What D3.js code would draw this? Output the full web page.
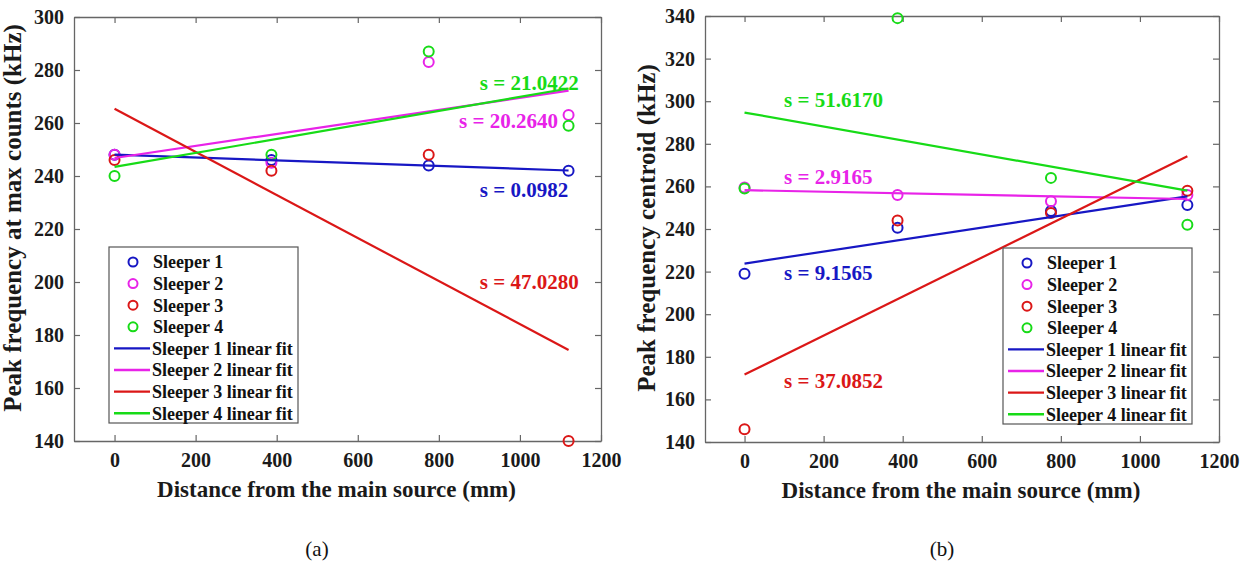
<!DOCTYPE html>
<html>
<head>
<meta charset="utf-8">
<script src="https://cdn.jsdelivr.net/npm/d3@7"></script>
<style>
  body { margin: 0; background: #fff; }
  svg { display: block; }
  text { font-family: "Liberation Serif", "Times New Roman", serif; }
</style>
</head>
<body>
<svg id="fig" width="1256" height="565"></svg>
<script>
// Sensor positions along the rail (mm from the main source)
const distances = [0, 387, 775, 1120];
const sleeperNames = ["Sleeper 1", "Sleeper 2", "Sleeper 3", "Sleeper 4"];
const xTickValues = [0, 200, 400, 600, 800, 1000, 1200];

// (a) Peak frequency at max counts (kHz)
const maxCounts1 = [248, 246, 244, 242];
const maxCounts2 = [248, 245, 283, 263];
const maxCounts3 = [246, 242, 248, 140];
const maxCounts4 = [240, 248, 287, 259];
const maxCountsLabels = ["s = 0.0982", "s = 20.2640", "s = 47.0280", "s = 21.0422"];
const maxCountsTicks = [140, 160, 180, 200, 220, 240, 260, 280, 300];

// (b) Peak frequency centroid (kHz)
const centroid1 = [219, 240.6, 248.5, 251.3];
const centroid2 = [259.5, 256, 253, 256];
const centroid3 = [146, 244, 247.5, 258];
const centroid4 = [259, 339, 264, 242];
const centroidLabels = ["s = 9.1565", "s = 2.9165", "s = 37.0852", "s = 51.6170"];
const centroidTicks = [140, 160, 180, 200, 220, 240, 260, 280, 300, 320, 340];

const colors = ["#1717c4", "#e823e8", "#db1717", "#17db17"];
const FONT = '"Liberation Serif", "Times New Roman", serif';

// Ordinary least-squares line through (x, y)
function linearFit(xs, ys) {
  const mx = d3.mean(xs), my = d3.mean(ys);
  let sxy = 0, sxx = 0;
  xs.forEach((x, i) => { sxy += (x - mx) * (ys[i] - my); sxx += (x - mx) * (x - mx); });
  const slope = sxy / sxx;
  return x => my + slope * (x - mx);
}

const svg = d3.select("#fig");

function drawPanel(cfg) {
  const g = svg.append("g");
  const x = d3.scaleLinear().domain([-100, 1200]).range([cfg.left, cfg.right]);
  const y = d3.scaleLinear().domain(cfg.yDomain).range([cfg.bottom, cfg.top]);
  const frame = "#666";
  const fmt = d3.format("d");

  // ticks pointing inwards on all four sides
  const tl = 6;
  const axes = [
    [d3.axisBottom(x).tickValues(xTickValues).tickFormat(fmt).tickSizeInner(-tl).tickSizeOuter(0).tickPadding(12), `translate(0,${cfg.bottom})`],
    [d3.axisTop(x).tickValues(xTickValues).tickSizeInner(-tl).tickSizeOuter(0).tickFormat(""), `translate(0,${cfg.top})`],
    [d3.axisLeft(y).tickValues(cfg.yTicks).tickFormat(fmt).tickSizeInner(-tl).tickSizeOuter(0).tickPadding(10), `translate(${cfg.left},0)`],
    [d3.axisRight(y).tickValues(cfg.yTicks).tickSizeInner(-tl).tickSizeOuter(0).tickFormat(""), `translate(${cfg.right},0)`]
  ];
  axes.forEach(([ax, tr]) => {
    const a = g.append("g").attr("transform", tr).call(ax);
    a.select(".domain").attr("stroke", frame).attr("stroke-width", 1.3);
    a.selectAll(".tick line").attr("stroke", frame).attr("stroke-width", 1.2);
    a.selectAll(".tick text")
      .attr("font-family", FONT).attr("font-weight", "bold")
      .attr("font-size", 20).attr("fill", "#1a1a1a");
  });

  // axis titles
  g.append("text")
    .attr("x", (cfg.left + cfg.right) / 2 - 1).attr("y", cfg.bottom + 56)
    .attr("text-anchor", "middle").attr("font-weight", "bold").attr("font-size", 23)
    .attr("fill", "#1a1a1a")
    .text("Distance from the main source (mm)");
  g.append("text")
    .attr("transform", `translate(${cfg.yLabelX},${cfg.yLabelY}) rotate(-90)`)
    .attr("text-anchor", "middle").attr("font-weight", "bold").attr("font-size", 25)
    .attr("fill", "#1a1a1a")
    .text(cfg.yLabel);

  // measured points (circles), then fitted lines
  cfg.series.forEach((vals, i) => {
    g.append("g").selectAll("circle")
      .data(vals.map((v, j) => [distances[j], v]))
      .join("circle")
      .attr("cx", d => x(d[0])).attr("cy", d => y(d[1]))
      .attr("r", 5).attr("fill", "none")
      .attr("stroke", colors[i]).attr("stroke-width", 2);
  });
  cfg.series.forEach((vals, i) => {
    const f = linearFit(distances, vals);
    const x0 = distances[0], x1 = distances[distances.length - 1];
    g.append("line")
      .attr("x1", x(x0)).attr("y1", y(f(x0)))
      .attr("x2", x(x1)).attr("y2", y(f(x1)))
      .attr("stroke", colors[i]).attr("stroke-width", 2.2);
  });

  // fit annotations
  cfg.labels.forEach((t, i) => {
    const p = cfg.labelAt[i];
    g.append("text")
      .attr("x", x(p[0])).attr("y", y(p[1])).attr("dy", "0.35em")
      .attr("font-weight", "bold").attr("font-size", 21)
      .attr("fill", colors[i]).text(t);
  });

  // legend
  const lg = g.append("g").attr("transform", `translate(${cfg.legend[0]},${cfg.legend[1]})`);
  const rowH = 21.6;
  lg.append("rect").attr("x", 0).attr("y", 0).attr("width", 189).attr("height", 176)
    .attr("fill", "#fff").attr("stroke", "#555").attr("stroke-width", 1.2);
  sleeperNames.forEach((n, i) => {
    const cy = 15 + i * rowH;
    lg.append("circle").attr("cx", 24).attr("cy", cy).attr("r", 4.5)
      .attr("fill", "none").attr("stroke", colors[i]).attr("stroke-width", 2);
    lg.append("text").attr("x", 44).attr("y", cy).attr("dy", "0.35em")
      .attr("font-weight", "bold").attr("font-size", 18).attr("fill", "#111").text(n);
  });
  sleeperNames.forEach((n, i) => {
    const cy = 15 + (i + 4) * rowH;
    lg.append("line").attr("x1", 5).attr("x2", 41).attr("y1", cy).attr("y2", cy)
      .attr("stroke", colors[i]).attr("stroke-width", 2.4);
    lg.append("text").attr("x", 43).attr("y", cy).attr("dy", "0.35em")
      .attr("font-weight", "bold").attr("font-size", 18).attr("fill", "#111").text(n + " linear fit");
  });

  // sub-figure caption
  g.append("text")
    .attr("x", cfg.captionX).attr("y", 556)
    .attr("text-anchor", "middle").attr("font-size", 21).attr("fill", "#111")
    .text(cfg.caption);
}

drawPanel({
  left: 74, right: 601, top: 17, bottom: 441,
  yDomain: [140, 300], yTicks: maxCountsTicks,
  yLabel: "Peak frequency at max counts (kHz)", yLabelX: 21, yLabelY: 218,
  series: [maxCounts1, maxCounts2, maxCounts3, maxCounts4],
  labels: maxCountsLabels,
  labelAt: [[901, 235], [850, 260.8], [901, 200], [901, 275.1]],
  legend: [109, 247],
  caption: "(a)", captionX: 317
});

drawPanel({
  left: 705, right: 1219, top: 16, bottom: 442,
  yDomain: [140, 340], yTicks: centroidTicks,
  yLabel: "Peak frequency centroid (kHz)", yLabelX: 655, yLabelY: 228,
  series: [centroid1, centroid2, centroid3, centroid4],
  labels: centroidLabels,
  labelAt: [[100, 219.3], [100, 264.4], [100, 169], [100, 300.6]],
  legend: [1003, 248],
  caption: "(b)", captionX: 942
});
</script>
</body>
</html>
